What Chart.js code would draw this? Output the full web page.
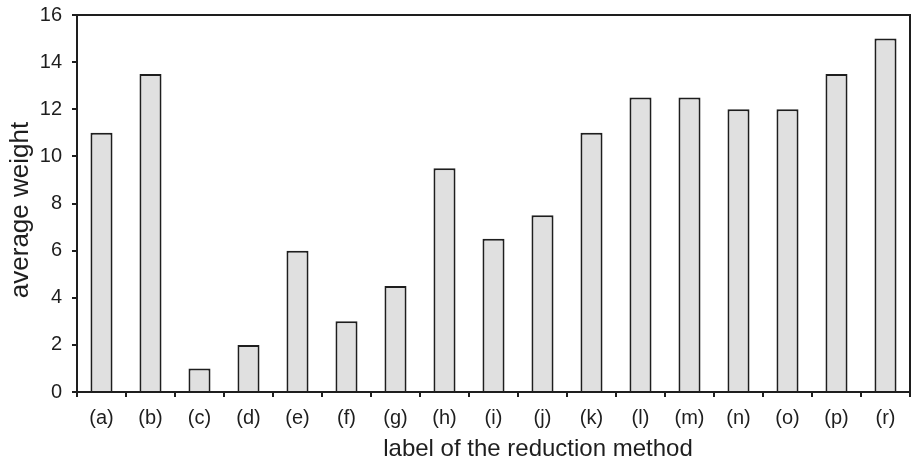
<!DOCTYPE html>
<html>
<head>
<meta charset="utf-8">
<script src="https://cdn.jsdelivr.net/npm/chart.js@4"></script>
<style>
html,body{margin:0;padding:0;background:#fff;}
#wrap{width:912px;height:462px;}
</style>
</head>
<body>
<div id="wrap"><canvas id="c" width="912" height="462"></canvas></div>
<script>
const categories = ["(a)","(b)","(c)","(d)","(e)","(f)","(g)","(h)","(i)","(j)","(k)","(l)","(m)","(n)","(o)","(p)","(r)"];
const averageWeight = [11, 13.5, 1, 2, 6, 3, 4.5, 9.5, 6.5, 7.5, 11, 12.5, 12.5, 12, 12, 13.5, 15];
const yTicks = [0, 2, 4, 6, 8, 10, 12, 14, 16];
const xTitle = "label of the reduction method";
const yTitle = "average weight";

const FONT = "'Liberation Sans', Arial, Helvetica, sans-serif";
const INK = '#1e1e1e';

const framePlugin = {
  id: 'frame',
  afterDraw(chart) {
    const {ctx, chartArea: a} = chart;
    ctx.save();
    ctx.strokeStyle = INK;
    ctx.lineWidth = 2;
    ctx.beginPath();
    ctx.moveTo(a.left, a.top);
    ctx.lineTo(a.right, a.top);
    ctx.lineTo(a.right, a.bottom);
    ctx.stroke();
    // axis titles
    ctx.fillStyle = INK;
    ctx.textAlign = 'center';
    ctx.textBaseline = 'middle';
    ctx.font = '24px ' + FONT;
    ctx.fillText(xTitle, 538, 449);
    ctx.translate(21, 210);
    ctx.rotate(-Math.PI / 2);
    ctx.font = '26px ' + FONT;
    ctx.fillText(yTitle, 0, 0);
    ctx.restore();
  }
};

new Chart(document.getElementById('c'), {
  type: 'bar',
  data: {
    labels: categories,
    datasets: [{
      data: averageWeight,
      backgroundColor: '#e0e0e0',
      borderColor: INK,
      borderWidth: 2,
      categoryPercentage: 1,
      barPercentage: 0.45
    }]
  },
  options: {
    responsive: false,
    animation: false,
    devicePixelRatio: 1,
    layout: { padding: { left: 0, right: 2, top: 15, bottom: 0 } },
    plugins: { legend: { display: false }, tooltip: { enabled: false } },
    scales: {
      x: {
        offset: true,
        grid: { display: true, drawOnChartArea: false, drawTicks: true, tickLength: 5, offset: true, color: INK, lineWidth: 2 },
        border: { display: true, color: INK, width: 2 },
        ticks: { color: INK, font: { family: FONT, size: 20 }, padding: 9, maxRotation: 0, autoSkip: false },
        afterFit(s) { s.height = 70; s.paddingLeft = 0; s.paddingRight = 0; }
      },
      y: {
        min: 0, max: 16,
        afterBuildTicks(s) { s.ticks = yTicks.map(v => ({ value: v })); },
        grid: { display: true, drawOnChartArea: false, drawTicks: true, tickLength: 5, color: INK, lineWidth: 2 },
        border: { display: true, color: INK, width: 2 },
        ticks: { color: INK, font: { family: FONT, size: 20 }, padding: 10 },
        afterFit(s) { s.width = 77; s.paddingTop = 0; s.paddingBottom = 0; }
      }
    }
  },
  plugins: [framePlugin]
});
</script>
</body>
</html>
